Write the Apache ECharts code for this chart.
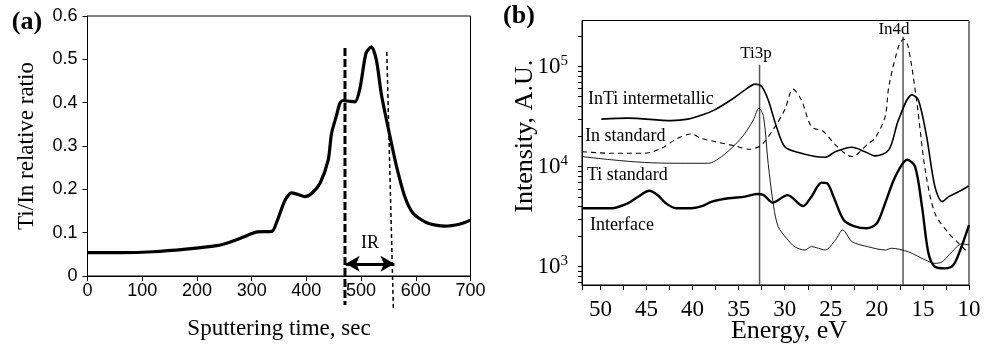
<!DOCTYPE html>
<html>
<head>
<meta charset="utf-8">
<script src="https://cdn.jsdelivr.net/npm/echarts@6/dist/echarts.min.js"></script>
<style>
  html, body { margin: 0; padding: 0; background: #fff; }
  #chart { width: 992px; height: 345px; }
</style>
</head>
<body>
<div id="chart"></div>
<script>
// ---- panel (a): Ti/In relative ratio vs sputtering time ----
const sputterTime = [0, 60, 120, 180, 236, 260, 285, 300, 310, 337, 346, 361, 373, 385, 397, 410, 425, 440, 446, 455, 461, 467, 480, 489, 498, 509, 519, 528, 537, 544, 553, 565, 580, 595, 620, 653, 681, 700];
const tiInRatio   = [0.054, 0.054, 0.056, 0.062, 0.070, 0.078, 0.090, 0.098, 0.102, 0.103, 0.125, 0.175, 0.192, 0.188, 0.183, 0.191, 0.214, 0.268, 0.329, 0.370, 0.398, 0.405, 0.403, 0.402, 0.433, 0.514, 0.529, 0.498, 0.420, 0.375, 0.321, 0.252, 0.183, 0.145, 0.123, 0.115, 0.120, 0.129];
const irLeftTime  = [470.6, 470.6];
const irLeftY     = [0.526, -0.067];
const irRightTime = [547, 559];
const irRightY    = [0.517, -0.074];
const irArrow     = [472, 561, 0.028];   // start time, end time, ratio

// ---- panel (b): XPS spectra, intensity vs energy ----
const intiE = [49.9, 47.0, 42.3, 40.5, 38.9, 37.6, 35.8, 34.3, 33.2, 32.5, 31.8, 30.9, 30.0, 28.5, 26.7, 25.6, 24.5, 22.7, 21.3, 20.2, 18.7, 17.65, 16.2, 15.5, 14.6, 13.7, 12.9, 12.2, 11.1, 10.05];
const intiI = [29800, 30500, 28800, 29800, 32900, 36900, 46500, 58500, 66700, 63100, 46500, 25100, 15800, 13800, 12600, 12400, 14100, 15600, 14100, 12800, 14700, 29300, 52100, 46500, 20000, 6310, 4470, 5010, 5620, 6410];

const inStdE = [52, 48.8, 45.2, 43.4, 41.6, 40.15, 39.1, 37.6, 35.4, 33.8, 32.5, 31.05, 30.0, 29.1, 28.2, 27.1, 25.8, 24.5, 22.7, 20.9, 20.2, 19.1, 18.7, 17.65, 17.1, 16.6, 15.65, 14.75, 13.7, 12.2, 11.1, 10.2];
const inStdI = [14100, 13600, 13600, 15200, 19200, 21200, 19200, 17800, 16100, 14900, 16500, 25100, 36900, 59400, 46500, 25100, 22400, 16500, 12600, 17100, 19200, 31600, 63100, 158000, 188000, 158000, 43100, 9270, 3420, 2160, 1710, 1410];

const tiStdE = [52, 48.8, 45.2, 41.6, 38.3, 36.85, 35.4, 34.3, 33.4, 32.8, 32.3, 31.8, 31.2, 30.7, 29.8, 28.9, 27.8, 27.1, 26.35, 25.6, 24.5, 23.7, 22.7, 20.9, 19.1, 18.4, 16.6, 14.75, 13.7, 12.9, 11.85, 10.8, 10.0];
const tiStdI = [12600, 11700, 11000, 10800, 10800, 12600, 16500, 21600, 29300, 38400, 31600, 10800, 3980, 2510, 1920, 1580, 1470, 1590, 1530, 1470, 1850, 2330, 1780, 1580, 1470, 1530, 1410, 1170, 1080, 1120, 1410, 1690, 1650];

const ifaceE = [52, 48.8, 47.0, 45.9, 44.7, 43.8, 42.9, 41.8, 40.15, 38.9, 37.9, 36.1, 34.3, 33.0, 32.3, 31.3, 29.7, 28.0, 27.1, 26.0, 25.4, 24.7, 23.6, 22.5, 21.1, 20.0, 19.1, 18.0, 16.7, 15.85, 15.1, 14.4, 13.7, 12.6, 11.7, 10.95, 10.0];
const ifaceI = [3840, 3840, 4310, 5010, 5750, 5210, 4310, 3840, 3840, 4050, 4470, 4830, 5010, 5330, 5210, 4370, 5190, 4030, 5010, 6920, 6820, 5010, 2930, 2550, 2420, 2720, 4310, 7940, 11700, 10000, 3980, 1360, 1000, 964, 1040, 1470, 2610];

const peakNames = ['Ti3p', 'In4d'];
const peakE     = [32.73, 17.16];
const peakTop   = [104000, 198000];

const energyLabels = [10, 15, 20, 25, 30, 35, 40, 45, 50];
const powerLabels  = [1000, 10000, 100000];
const intensityMin = 657;
const intensityMax = 288000;

const zip = (xs, ys) => xs.map((x, i) => [x, ys[i]]);

const serif = 'Liberation Serif';
const sans = 'Liberation Sans';

// log minor tick positions 1..9 x 10^n
const logTicks = [];
for (let e = 2; e <= 5; e++) {
  for (let m = 1; m <= 9; m++) logTicks.push(m * Math.pow(10, e));
}

const axisBlack = { lineStyle: { color: '#000', width: 1 } };

const chart = echarts.init(document.getElementById('chart'));

const option = {
  animation: false,
  backgroundColor: '#fff',
  grid: [
    { left: 87.5, top: 16, width: 383, height: 260, show: true, borderColor: '#000', borderWidth: 1, outerBoundsMode: 'none', containLabel: false },
    { left: 582, top: 20.5, width: 387, height: 264.5, show: true, borderColor: '#000', borderWidth: 1, outerBoundsMode: 'none', containLabel: false }
  ],
  xAxis: [
    {
      gridIndex: 0, type: 'value', min: 0, max: 700, interval: 100,
      name: 'Sputtering time, sec', nameLocation: 'middle', nameGap: 41, nameMoveOverlap: false,
      nameTextStyle: { fontFamily: serif, fontSize: 23, color: '#000' },
      axisLine: axisBlack,
      axisTick: { length: 5, lineStyle: { color: '#000' } },
      axisLabel: { fontFamily: sans, fontSize: 18, color: '#000', margin: 6 },
      splitLine: { show: false }
    },
    {
      gridIndex: 1, type: 'value', inverse: true, min: 10, max: 52, interval: 2.5,
      name: 'Energy, eV', nameLocation: 'middle', nameGap: 33, nameMoveOverlap: false,
      nameTextStyle: { fontFamily: serif, fontSize: 26, color: '#000', padding: [0, 0, 0, 27] },
      axisLine: axisBlack,
      axisTick: { length: 5, lineStyle: { color: '#000' } },
      axisLabel: { customValues: energyLabels, fontFamily: serif, fontSize: 23, color: '#000', margin: 13 },
      splitLine: { show: false }
    }
  ],
  yAxis: [
    {
      gridIndex: 0, type: 'value', min: 0, max: 0.6, interval: 0.1,
      name: 'Ti/In relative ratio', nameLocation: 'middle', nameGap: 49, nameMoveOverlap: false,
      nameTextStyle: { fontFamily: serif, fontSize: 23, color: '#000' },
      axisLine: { show: true, lineStyle: { color: '#000', width: 1 } },
      axisTick: { show: true, length: 5, lineStyle: { color: '#000' } },
      axisLabel: { fontFamily: sans, fontSize: 18, color: '#000', margin: 10 },
      splitLine: { show: false }
    },
    {
      gridIndex: 1, type: 'log', logBase: 10, min: intensityMin, max: intensityMax,
      name: 'Intensity, A.U.', nameLocation: 'middle', nameGap: 44, nameMoveOverlap: false,
      nameTextStyle: { fontFamily: serif, fontSize: 26, color: '#000', padding: [0, 0, 0, 33] },
      axisLine: { show: true, lineStyle: { color: '#000', width: 1 } },
      axisTick: { show: true, length: 4, customValues: logTicks, lineStyle: { color: '#000' } },
      axisLabel: {
        customValues: powerLabels, margin: 14, color: '#000',
        formatter: v => '{b|10}{s|' + Math.round(Math.log10(v)) + '}',
        rich: {
          b: { fontFamily: serif, fontSize: 23, color: '#000', lineHeight: 26 },
          s: { fontFamily: serif, fontSize: 15, color: '#000', verticalAlign: 'top', lineHeight: 15 }
        }
      },
      splitLine: { show: false }
    }
  ],
  series: [
    {
      type: 'line', xAxisIndex: 0, yAxisIndex: 0, data: zip(sputterTime, tiInRatio),
      showSymbol: false, smooth: 0.25, lineStyle: { color: '#000', width: 3.2 },
      markLine: {
        silent: true, symbol: ['arrow', 'arrow'], symbolSize: [12, 14],
        lineStyle: { color: '#000', width: 3, type: 'solid' },
        label: { show: true, position: 'middle', formatter: 'IR', fontFamily: serif, fontSize: 18, color: '#000', distance: 12 },
        data: [[{ coord: [irArrow[0], irArrow[2]] }, { coord: [irArrow[1], irArrow[2]] }]]
      }
    },
    {
      type: 'line', xAxisIndex: 0, yAxisIndex: 0, data: zip(irLeftTime, irLeftY), clip: false,
      showSymbol: false, lineStyle: { color: '#000', width: 3, type: [8, 3] }
    },
    {
      type: 'line', xAxisIndex: 0, yAxisIndex: 0, data: zip(irRightTime, irRightY), clip: false,
      showSymbol: false, lineStyle: { color: '#000', width: 1.5, type: [4, 3] }
    },
    {
      type: 'line', xAxisIndex: 1, yAxisIndex: 1, data: [[peakE[0], peakTop[0]], [peakE[0], intensityMin]],
      showSymbol: false, lineStyle: { color: '#555', width: 1.5 }
    },
    {
      type: 'line', xAxisIndex: 1, yAxisIndex: 1, data: [[peakE[1], peakTop[1]], [peakE[1], intensityMin]],
      showSymbol: false, lineStyle: { color: '#555', width: 1.5 }
    },
    {
      name: 'InTi intermetallic', type: 'line', xAxisIndex: 1, yAxisIndex: 1, data: zip(intiE, intiI),
      showSymbol: false, smooth: 0.3, lineStyle: { color: '#000', width: 1.6 }
    },
    {
      name: 'In standard', type: 'line', xAxisIndex: 1, yAxisIndex: 1, data: zip(inStdE, inStdI),
      showSymbol: false, smooth: 0.3, lineStyle: { color: '#000', width: 1.1, type: [5, 4] }
    },
    {
      name: 'Ti standard', type: 'line', xAxisIndex: 1, yAxisIndex: 1, data: zip(tiStdE, tiStdI),
      showSymbol: false, smooth: 0.3, lineStyle: { color: '#000', width: 0.9 }
    },
    {
      name: 'Interface', type: 'line', xAxisIndex: 1, yAxisIndex: 1, data: zip(ifaceE, ifaceI),
      showSymbol: false, smooth: 0.3, lineStyle: { color: '#000', width: 2.4 }
    }
  ],
  graphic: [
    { type: 'text', x: 27, y: 22, style: { text: '(a)', align: 'center', verticalAlign: 'middle', font: 'bold 26px ' + serif, fill: '#000' } },
    { type: 'text', x: 519, y: 16, style: { text: '(b)', align: 'center', verticalAlign: 'middle', font: 'bold 26px ' + serif, fill: '#000' } },
    { type: 'text', x: 588, y: 99, style: { text: 'InTi intermetallic', verticalAlign: 'middle', font: '18px ' + serif, fill: '#000' } },
    { type: 'text', x: 585, y: 136, style: { text: 'In standard', verticalAlign: 'middle', font: '18px ' + serif, fill: '#000' } },
    { type: 'text', x: 587, y: 175, style: { text: 'Ti standard', verticalAlign: 'middle', font: '18px ' + serif, fill: '#000' } },
    { type: 'text', x: 590, y: 225, style: { text: 'Interface', verticalAlign: 'middle', font: '18px ' + serif, fill: '#000' } },
    { type: 'text', x: 756, y: 54, style: { text: peakNames[0], align: 'center', verticalAlign: 'middle', font: '17px ' + serif, fill: '#000' } },
    { type: 'text', x: 894, y: 30, style: { text: peakNames[1], align: 'center', verticalAlign: 'middle', font: '17px ' + serif, fill: '#000' } }
  ]
};

chart.setOption(option);
</script>
</body>
</html>
